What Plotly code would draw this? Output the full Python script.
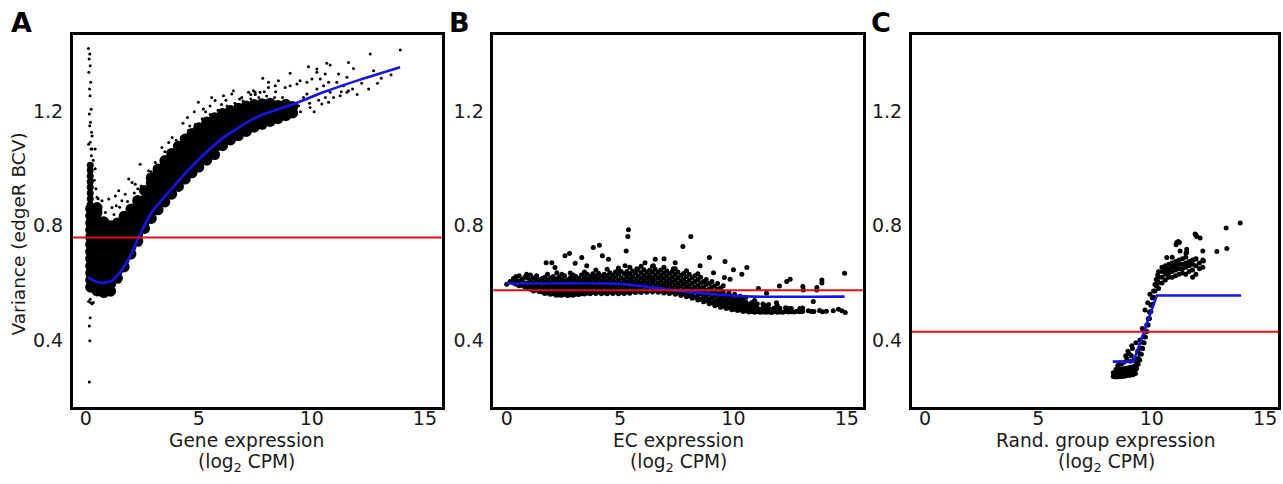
import plotly.graph_objects as go

W, H = 1283, 484
FONT = "DejaVu Sans"
INK = "#1a1a1a"

# ------------------------------------------------------------------ data
x_ticks = [0, 5, 10, 15]
x_tick_labels = ["0", "5", "10", "15"]
y_ticks = [0.4, 0.8, 1.2]
y_tick_labels = ["0.4", "0.8", "1.2"]

panel_letters = ["A", "B", "C"]
x_titles = ["Gene expression", "EC expression", "Rand. group expression"]
x_units = "(log<sub>2</sub> CPM)"
y_title = "Variance (edgeR BCV)"

# common (red) dispersion per panel
common_bcv = [0.759, 0.574, 0.429]

# ---- Panel A : genes
trendA_x = [0.1, 0.4, 0.75, 1.15, 1.6, 2.05, 2.35, 2.9, 3.8, 4.65, 5.5, 6.1, 7.6, 9.2, 10.5, 12.0, 13.9]
trendA_y = [0.619, 0.606, 0.600, 0.607, 0.646, 0.707, 0.762, 0.845, 0.930, 1.005, 1.070, 1.110, 1.183, 1.227, 1.268, 1.309, 1.356]

# dense core of the gene cloud, one column of points per expression level
coreA = [
    (0.22, [0.585, 0.61, 0.635, 0.66, 0.685, 0.71, 0.735, 0.76, 0.785, 0.81, 0.835, 0.86]),
    (0.50, [0.572, 0.597, 0.622, 0.647, 0.672, 0.697, 0.722, 0.747, 0.772, 0.797, 0.822, 0.847, 0.864]),
    (0.80, [0.566, 0.591, 0.616, 0.641, 0.666, 0.691, 0.716, 0.741, 0.766, 0.791, 0.814]),
    (1.10, [0.571, 0.596, 0.621, 0.646, 0.671, 0.696, 0.721, 0.746, 0.771, 0.80]),
    (1.40, [0.616, 0.641, 0.666, 0.691, 0.716, 0.741, 0.766, 0.791, 0.81]),
    (1.70, [0.656, 0.681, 0.706, 0.731, 0.756, 0.781, 0.806, 0.834]),
    (2.00, [0.701, 0.726, 0.751, 0.776, 0.801, 0.826, 0.859]),
    (2.30, [0.746, 0.771, 0.796, 0.821, 0.846, 0.871, 0.889]),
    (2.60, [0.791, 0.816, 0.841, 0.866, 0.891, 0.924]),
    (2.90, [0.826, 0.851, 0.876, 0.901, 0.926, 0.951, 0.969]),
    (3.20, [0.856, 0.881, 0.906, 0.931, 0.956, 0.981, 0.999]),
    (3.50, [0.884, 0.909, 0.934, 0.959, 0.984, 1.009, 1.029]),
    (3.80, [0.911, 0.936, 0.961, 0.986, 1.011, 1.036, 1.054]),
    (4.10, [0.938, 0.963, 0.988, 1.013, 1.038, 1.063, 1.079]),
    (4.40, [0.964, 0.989, 1.014, 1.039, 1.064, 1.089, 1.104]),
    (4.70, [0.986, 1.011, 1.036, 1.061, 1.086, 1.111, 1.124]),
    (5.00, [1.006, 1.031, 1.056, 1.081, 1.106, 1.131, 1.144]),
    (5.35, [1.030, 1.055, 1.080, 1.105, 1.130, 1.155, 1.164]),
    (5.70, [1.050, 1.075, 1.100, 1.125, 1.150, 1.179]),
    (6.05, [1.081, 1.106, 1.131, 1.156, 1.181, 1.194]),
    (6.40, [1.101, 1.126, 1.151, 1.176, 1.204]),
    (6.75, [1.116, 1.141, 1.166, 1.191, 1.212]),
    (7.10, [1.131, 1.156, 1.181, 1.205, 1.220]),
    (7.45, [1.146, 1.171, 1.196, 1.225]),
    (7.80, [1.156, 1.181, 1.206, 1.228]),
    (8.15, [1.166, 1.190, 1.212, 1.230]),
    (8.50, [1.176, 1.200, 1.222]),
    (8.85, [1.186, 1.210, 1.226]),
    (9.15, [1.196, 1.218]),
]
# narrow upper part of the low-count spike
spikeCoreA = [
    (0.20, [0.875, 0.895, 0.915, 0.935, 0.955, 0.975, 0.995, 1.012]),
]

# sparse genes: the low-count spike and the points outside the core
spikeA_x = [0.12, 0.18, 0.15, 0.20, 0.14, 0.22, 0.17, 0.19, 0.24, 0.16, 0.21, 0.18, 0.26, 0.20, 0.23, 0.25,
            0.20, 0.34, 0.20, 0.16, 0.18, 0.16, 0.13, 0.22, 0.28]
spikeA_y = [1.422, 1.402, 1.385, 1.361, 1.338, 1.303, 1.280, 1.256, 1.209, 1.192, 1.163, 1.151, 1.128, 1.093, 1.069, 1.046,
            0.543, 0.531, 0.478, 0.449, 0.397, 0.253, 0.535, 0.530, 0.527]

speckA_x = [0.13, 0.28, 0.42, 0.28, 2.41, 1.90, 2.05, 1.46, 1.31, 1.02, 0.72, 0.65, 0.87, 1.16, 1.60, 1.75, 2.19,
            2.78, 3.08, 3.37, 3.67, 3.82, 0.38, 0.45, 0.50, 0.42, 0.55, 0.33,
            1.25, 1.50, 1.85, 2.15, 2.45, 2.75, 3.05, 3.35, 3.65, 3.95, 4.25, 4.55, 4.85, 5.15, 5.50, 5.85,
            6.25, 6.60, 6.95, 7.30, 7.65, 8.00, 8.35, 1.35, 2.30, 2.90, 3.50, 4.00, 4.60, 5.30, 6.00, 6.80,
            7.50, 4.30, 4.50, 4.80, 5.50, 6.20, 6.90, 7.30, 7.90, 8.40, 8.70, 8.60, 9.00,
            9.04, 9.85, 10.22, 10.22, 10.66, 10.81, 11.62, 11.84, 12.58, 13.91, 12.73, 13.07, 12.51, 11.55,
            11.18, 10.59, 10.37, 10.00, 9.78, 9.48, 9.34, 9.04, 8.82, 8.52, 8.38, 8.08, 7.83, 8.08, 7.71,
            7.49, 7.42, 7.20, 6.53, 6.46, 6.09, 5.72, 5.57, 5.20, 4.98, 11.10, 10.81, 10.96, 11.40, 11.55,
            11.62, 10.74, 10.44, 9.92, 9.41, 9.19, 9.04, 8.89, 9.63, 9.78, 10.22, 10.52, 10.74, 11.25,
            9.50, 9.90, 10.30, 10.60, 11.30, 11.80, 12.20, 12.90, 13.50, 12.00, 10.10]
speckA_y = [1.086, 1.069, 1.069, 1.115, 1.016, 0.964, 0.952, 0.923, 0.905, 0.894, 0.888, 0.858, 0.847, 0.864, 0.888, 0.911, 0.946,
            0.993, 1.022, 1.075, 1.092, 1.110, 0.960, 0.930, 0.900, 1.000, 0.895, 1.030,
            0.840, 0.865, 0.885, 0.915, 0.940, 0.970, 1.000, 1.030, 1.060, 1.085, 1.110, 1.135, 1.155, 1.175, 1.190, 1.205,
            1.220, 1.230, 1.238, 1.245, 1.250, 1.255, 1.250, 0.870, 0.930, 0.990, 1.060, 1.100, 1.150, 1.200, 1.225, 1.245,
            1.260, 1.160, 1.180, 1.200, 1.220, 1.240, 1.250, 1.260, 1.270, 1.270, 1.250, 1.225, 1.220,
            1.335, 1.358, 1.350, 1.338, 1.370, 1.364, 1.373, 1.352, 1.402, 1.416, 1.344, 1.317, 1.280, 1.321,
            1.332, 1.332, 1.315, 1.315, 1.303, 1.309, 1.297, 1.291, 1.285, 1.309, 1.291, 1.303, 1.317, 1.285, 1.268,
            1.268, 1.274, 1.268, 1.274, 1.262, 1.256, 1.239, 1.250, 1.210, 1.233, 1.303, 1.268, 1.250, 1.291, 1.268,
            1.274, 1.233, 1.227, 1.215, 1.221, 1.210, 1.192, 1.198, 1.250, 1.262, 1.280, 1.291, 1.303, 1.256,
            1.200, 1.230, 1.240, 1.250, 1.270, 1.280, 1.300, 1.300, 1.330, 1.260, 1.200]

# ---- Panel B : equivalence classes
trendB_x = [0.0, 4.5, 5.5, 7.6, 9.1, 10.9, 14.9]
trendB_y = [0.598, 0.598, 0.593, 0.572, 0.560, 0.552, 0.552]

coreB = [
    (0.00, [0.595]),
    (0.30, [0.600, 0.615]),
    (0.55, [0.590, 0.607, 0.625]),
    (0.80, [0.585, 0.600, 0.620]),
    (1.05, [0.578, 0.593, 0.610, 0.628]),
    (1.30, [0.575, 0.590, 0.605, 0.620]),
    (1.55, [0.568, 0.583, 0.600, 0.615]),
    (1.80, [0.565, 0.580, 0.595, 0.610, 0.630]),
    (2.05, [0.562, 0.577, 0.592, 0.607, 0.622]),
    (2.30, [0.558, 0.573, 0.590, 0.605, 0.620]),
    (2.55, [0.560, 0.575, 0.590, 0.607, 0.625]),
    (2.80, [0.558, 0.572, 0.588, 0.603, 0.618, 0.635]),
    (3.05, [0.560, 0.575, 0.590, 0.606, 0.622]),
    (3.30, [0.562, 0.578, 0.594, 0.610, 0.628]),
    (3.55, [0.565, 0.580, 0.596, 0.612, 0.630]),
    (3.80, [0.566, 0.582, 0.598, 0.615, 0.632]),
    (4.05, [0.568, 0.584, 0.600, 0.616, 0.634]),
    (4.30, [0.566, 0.582, 0.598, 0.614, 0.630]),
    (4.55, [0.567, 0.583, 0.600, 0.617, 0.636]),
    (4.80, [0.568, 0.585, 0.602, 0.620, 0.638]),
    (5.05, [0.567, 0.584, 0.600, 0.618, 0.640]),
    (5.30, [0.568, 0.586, 0.604, 0.622, 0.640]),
    (5.55, [0.570, 0.587, 0.605, 0.622, 0.642]),
    (5.80, [0.571, 0.588, 0.606, 0.624, 0.645]),
    (6.05, [0.572, 0.590, 0.608, 0.626, 0.646]),
    (6.30, [0.573, 0.590, 0.608, 0.626, 0.644]),
    (6.55, [0.574, 0.592, 0.610, 0.628, 0.648]),
    (6.80, [0.572, 0.590, 0.608, 0.626, 0.645]),
    (7.05, [0.570, 0.588, 0.606, 0.624, 0.643]),
    (7.30, [0.568, 0.585, 0.603, 0.621, 0.640]),
    (7.55, [0.565, 0.582, 0.600, 0.618, 0.638]),
    (7.80, [0.560, 0.578, 0.596, 0.614, 0.633]),
    (8.05, [0.555, 0.573, 0.591, 0.610, 0.630]),
    (8.30, [0.550, 0.568, 0.586, 0.605, 0.625]),
    (8.55, [0.543, 0.562, 0.580, 0.600, 0.620]),
    (8.80, [0.537, 0.555, 0.574, 0.594, 0.612]),
    (9.05, [0.530, 0.548, 0.567, 0.586, 0.605]),
    (9.30, [0.524, 0.541, 0.559, 0.578, 0.598]),
    (9.55, [0.518, 0.535, 0.552, 0.570, 0.590]),
    (9.80, [0.513, 0.530, 0.547, 0.565]),
    (10.05, [0.508, 0.524, 0.541, 0.560]),
    (10.30, [0.505, 0.520, 0.536, 0.553]),
    (10.55, [0.502, 0.516, 0.532, 0.550]),
    (10.80, [0.500, 0.514, 0.530]),
    (11.05, [0.499, 0.512, 0.527]),
    (11.30, [0.498, 0.511, 0.526]),
    (11.55, [0.498, 0.510, 0.524]),
    (11.80, [0.499, 0.512]),
    (12.05, [0.498, 0.511]),
    (12.30, [0.500, 0.513]),
    (12.55, [0.499, 0.510]),
    (12.80, [0.501]),
    (13.05, [0.500, 0.512]),
    (13.30, [0.502]),
    (13.55, [0.500]),
    (13.80, [0.503]),
    (14.10, [0.501]),
    (14.78, [0.502]),
    (14.93, [0.496]),
]
# second, interleaved set of classes between the columns above
coreB_mid = [
    (0.15, [0.605]),
    (0.42, [0.595, 0.610]),
    (0.68, [0.592, 0.612]),
    (0.93, [0.583, 0.598, 0.616]),
    (1.18, [0.572, 0.586, 0.600, 0.617]),
    (1.43, [0.570, 0.585, 0.598, 0.611]),
    (1.68, [0.563, 0.576, 0.589, 0.603, 0.620]),
    (1.93, [0.560, 0.572, 0.586, 0.600, 0.617]),
    (2.18, [0.557, 0.570, 0.584, 0.598, 0.614]),
    (2.43, [0.557, 0.567, 0.582, 0.597, 0.612, 0.630]),
    (2.68, [0.556, 0.566, 0.580, 0.596, 0.611]),
    (2.93, [0.557, 0.567, 0.582, 0.598, 0.613, 0.628]),
    (3.18, [0.559, 0.570, 0.585, 0.600, 0.615]),
    (3.43, [0.561, 0.572, 0.587, 0.603, 0.620, 0.638]),
    (3.68, [0.562, 0.574, 0.590, 0.606, 0.622]),
    (3.93, [0.563, 0.576, 0.592, 0.608, 0.625, 0.645]),
    (4.18, [0.562, 0.575, 0.590, 0.607, 0.624]),
    (4.43, [0.562, 0.575, 0.591, 0.608, 0.626, 0.648]),
    (4.68, [0.563, 0.577, 0.593, 0.610, 0.628]),
    (4.93, [0.562, 0.576, 0.593, 0.610, 0.630, 0.652]),
    (5.18, [0.563, 0.577, 0.594, 0.612, 0.632]),
    (5.43, [0.564, 0.579, 0.596, 0.614, 0.633, 0.655]),
    (5.68, [0.566, 0.580, 0.597, 0.615, 0.635]),
    (5.93, [0.566, 0.581, 0.598, 0.616, 0.636, 0.658]),
    (6.18, [0.567, 0.582, 0.600, 0.618, 0.637]),
    (6.43, [0.568, 0.583, 0.601, 0.619, 0.638, 0.658]),
    (6.68, [0.567, 0.582, 0.600, 0.618, 0.637]),
    (6.93, [0.565, 0.580, 0.598, 0.616, 0.635, 0.655]),
    (7.18, [0.563, 0.578, 0.596, 0.614, 0.633]),
    (7.43, [0.560, 0.575, 0.593, 0.611, 0.630, 0.650]),
    (7.68, [0.556, 0.571, 0.589, 0.607, 0.626]),
    (7.93, [0.551, 0.566, 0.584, 0.602, 0.622, 0.643]),
    (8.18, [0.546, 0.561, 0.579, 0.598, 0.618]),
    (8.43, [0.540, 0.555, 0.573, 0.592, 0.612, 0.632]),
    (8.68, [0.534, 0.549, 0.567, 0.586, 0.605]),
    (8.93, [0.527, 0.542, 0.560, 0.579, 0.598]),
    (9.18, [0.520, 0.536, 0.553, 0.572, 0.590]),
    (9.43, [0.515, 0.530, 0.546, 0.563, 0.582]),
    (9.68, [0.510, 0.524, 0.540, 0.556]),
    (9.93, [0.506, 0.520, 0.535, 0.552]),
    (10.18, [0.503, 0.516, 0.530, 0.546]),
    (10.43, [0.500, 0.513, 0.527, 0.543]),
    (10.68, [0.498, 0.510, 0.524]),
    (10.93, [0.497, 0.509, 0.522, 0.538]),
    (11.18, [0.497, 0.508]),
    (11.43, [0.497, 0.509, 0.520]),
    (11.68, [0.496, 0.507]),
    (11.93, [0.497, 0.508, 0.522]),
    (12.18, [0.497]),
    (12.43, [0.498, 0.510]),
    (12.68, [0.498]),
    (12.93, [0.499, 0.510]),
    (13.43, [0.500]),
    (13.93, [0.499]),
    (14.40, [0.502]),
]

outB_x = [5.37, 5.34, 5.27, 8.12, 7.77, 4.09, 3.82, 2.77, 2.57, 3.31, 4.22, 1.99, 1.74, 3.02, 4.49, 8.94,
          9.63, 10.59, 10.00, 10.37, 14.90, 13.90, 12.50, 13.06, 13.68, 12.03, 0.41, 0.88, 1.32, 5.22,
          5.74, 6.47, 6.94, 7.43, 7.35, 6.55, 6.10, 4.90, 2.21, 2.13, 3.53, 8.53, 9.12, 9.60, 9.85,
          11.10, 11.46, 11.90, 12.35, 13.08, 13.67, 13.52, 13.90, 14.63]
outB_y = [0.786, 0.763, 0.712, 0.763, 0.728, 0.732, 0.724, 0.703, 0.695, 0.689, 0.695, 0.671, 0.671, 0.669, 0.683, 0.689,
          0.675, 0.654, 0.646, 0.630, 0.634, 0.610, 0.613, 0.587, 0.584, 0.589, 0.622, 0.630, 0.625, 0.660,
          0.650, 0.660, 0.685, 0.671, 0.650, 0.683, 0.671, 0.642, 0.636, 0.654, 0.660, 0.660, 0.636, 0.619, 0.613,
          0.580, 0.564, 0.530, 0.605, 0.575, 0.575, 0.535, 0.600, 0.508]

# ---- Panel C : random groups
trendC_x = [8.28, 9.19, 10.22, 13.94]
trendC_y = [0.324, 0.324, 0.556, 0.556]

pointsC_x = [8.30, 8.30, 8.42, 8.42, 8.42, 8.55, 8.55, 8.55, 8.68, 8.68, 8.68, 8.80, 8.80, 8.80, 8.93, 8.93, 8.93,
             9.05, 9.05, 9.05, 9.17, 9.17, 9.17, 9.28, 9.28, 9.28,
             8.50, 8.65, 8.78, 8.90, 9.00, 9.10, 9.15, 8.95, 9.22, 9.30, 8.85, 9.05, 8.60, 9.12,
             9.33, 9.33, 9.40, 9.40, 9.47, 9.47, 9.54, 9.54, 9.60, 9.60, 9.66, 9.66, 9.72, 9.72, 9.78, 9.78,
             9.84, 9.84, 9.90, 9.90, 9.96, 9.96, 10.02, 10.02, 10.08, 10.08, 10.14, 10.14, 10.20, 10.20, 10.26, 10.26,
             9.38, 9.48, 9.58, 9.70, 9.82, 9.92,
             10.30, 10.30, 10.30, 10.30, 10.45, 10.45, 10.45, 10.45, 10.60, 10.60, 10.60, 10.60,
             10.75, 10.75, 10.75, 10.75, 10.90, 10.90, 10.90, 10.90, 10.90, 11.05, 11.05, 11.05, 11.05,
             11.20, 11.20, 11.20, 11.20, 11.35, 11.35, 11.35, 11.35, 11.50, 11.50, 11.50, 11.50,
             11.65, 11.65, 11.65, 11.80, 11.80, 11.80, 11.80, 11.95, 11.95, 11.95, 12.10, 12.10, 12.25, 12.25,
             13.90, 13.28, 13.31, 12.87, 12.25, 12.28, 11.94, 12.13, 11.22, 11.07, 11.54, 11.51, 11.91, 11.62,
             10.66, 11.91, 11.98, 11.10, 11.17, 11.54, 11.25]
pointsC_y = [0.272, 0.285, 0.270, 0.283, 0.296, 0.271, 0.284, 0.297, 0.272, 0.285, 0.298, 0.273, 0.286, 0.300, 0.275, 0.288, 0.302,
             0.276, 0.290, 0.304, 0.278, 0.292, 0.306, 0.282, 0.296, 0.310,
             0.310, 0.315, 0.322, 0.335, 0.352, 0.345, 0.370, 0.360, 0.330, 0.390, 0.345, 0.325, 0.320, 0.380,
             0.300, 0.318, 0.315, 0.335, 0.330, 0.352, 0.350, 0.372, 0.370, 0.392, 0.390, 0.412, 0.410, 0.432, 0.430, 0.452,
             0.452, 0.474, 0.475, 0.497, 0.500, 0.522, 0.525, 0.547, 0.550, 0.572, 0.572, 0.594, 0.590, 0.612, 0.605, 0.628,
             0.360, 0.400, 0.440, 0.505, 0.530, 0.560,
             0.580, 0.600, 0.620, 0.640, 0.600, 0.620, 0.640, 0.655, 0.610, 0.630, 0.645, 0.660,
             0.620, 0.635, 0.650, 0.665, 0.620, 0.640, 0.655, 0.670, 0.690, 0.625, 0.645, 0.660, 0.675,
             0.630, 0.650, 0.665, 0.680, 0.635, 0.650, 0.665, 0.685, 0.630, 0.655, 0.670, 0.690,
             0.640, 0.660, 0.675, 0.620, 0.645, 0.665, 0.680, 0.630, 0.660, 0.685, 0.650, 0.670, 0.655, 0.680,
             0.810, 0.792, 0.721, 0.710, 0.712, 0.677, 0.769, 0.757, 0.742, 0.734, 0.718, 0.704, 0.683, 0.666,
             0.689, 0.771, 0.763, 0.742, 0.745, 0.707, 0.712]

# ------------------------------------------------------------------ layout (pixels)
plot_px = [(72.7, 441.7), (493.3, 862.7), (911.7, 1278.3)]
plot_top, plot_bottom = 35.0, 406.7
x_ranges = [(-0.575, 15.74), (-0.59, 15.70), (-0.587, 15.58)]
y_range = (0.166, 1.469)
title_cx = [246.0, 678.5, 1106.0]
letter_px = [9.0, 447.0, 869.0]


def flatten(*tables):
    xs, ys = [], []
    for cols in tables:
        for x, col in cols:
            for y in col:
                xs.append(x)
                ys.append(y)
    return xs, ys


coreA_x, coreA_y = flatten(coreA)
spkA_x, spkA_y = flatten(spikeCoreA)
coreB_x, coreB_y = flatten(coreB, coreB_mid)

BLACK = "#000000"
BLUE = "#1414f0"
RED = "#e01010"

fig = go.Figure()


def dots(x, y, size, axis):
    fig.add_trace(go.Scatter(x=x, y=y, mode="markers", xaxis=axis[0], yaxis=axis[1],
                             marker=dict(size=size, color=BLACK, line=dict(width=0)),
                             hoverinfo="skip", showlegend=False))


def trend(x, y, axis, smooth=True):
    line = dict(color=BLUE, width=2.6)
    if smooth:
        line.update(shape="spline", smoothing=0.6)
    fig.add_trace(go.Scatter(x=x, y=y, mode="lines", xaxis=axis[0], yaxis=axis[1],
                             line=line, hoverinfo="skip", showlegend=False))


axA, axB, axC = ("x", "y"), ("x2", "y2"), ("x3", "y3")
dots(coreA_x, coreA_y, 11, axA)
dots(spkA_x, spkA_y, 7, axA)
dots(speckA_x, speckA_y, 3, axA)
dots(spikeA_x, spikeA_y, 3, axA)
trend(trendA_x, trendA_y, axA)

dots(coreB_x, coreB_y, 5, axB)
dots(outB_x, outB_y, 5, axB)
trend(trendB_x, trendB_y, axB)

dots(pointsC_x, pointsC_y, 5, axC)
trend(trendC_x, trendC_y, axC, smooth=False)

shapes = []
annotations = []
layout_axes = {}
for i in range(3):
    sfx = "" if i == 0 else str(i + 1)
    l, r = plot_px[i]
    layout_axes["xaxis" + sfx] = dict(
        domain=[l / W, r / W], range=list(x_ranges[i]), anchor="y" + sfx,
        tickvals=x_ticks, ticktext=x_tick_labels, ticks="", showgrid=False, zeroline=False,
        showline=True, mirror=True, linecolor=BLACK, linewidth=2.5,
        tickfont=dict(family=FONT, size=19, color=INK), ticklabelstandoff=-7, fixedrange=True)
    layout_axes["yaxis" + sfx] = dict(
        domain=[1 - plot_bottom / H, 1 - plot_top / H], range=list(y_range), anchor="x" + sfx,
        tickvals=y_ticks, ticktext=y_tick_labels, ticks="", showgrid=False, zeroline=False,
        showline=True, mirror=True, linecolor=BLACK, linewidth=2.5,
        tickfont=dict(family=FONT, size=19, color=INK), ticklabelstandoff=3, fixedrange=True)
    shapes.append(dict(type="line", xref="x" + sfx + " domain", yref="y" + sfx,
                       x0=0, x1=1, y0=common_bcv[i], y1=common_bcv[i],
                       line=dict(color=RED, width=2), layer="above"))
    annotations.append(dict(text=panel_letters[i], xref="paper", yref="paper",
                            x=letter_px[i] / W, y=1 - 5 / H, xanchor="left", yanchor="top",
                            showarrow=False, font=dict(family=FONT, size=27, color=BLACK, weight="bold")))
    annotations.append(dict(text=x_titles[i], xref="paper", yref="paper",
                            x=title_cx[i] / W, y=1 - 440 / H, xanchor="center", yanchor="middle",
                            showarrow=False, font=dict(family=FONT, size=18.6, color=INK)))
    annotations.append(dict(text=x_units, xref="paper", yref="paper",
                            x=title_cx[i] / W, y=1 - 463 / H, xanchor="center", yanchor="middle",
                            showarrow=False, font=dict(family=FONT, size=18.6, color=INK)))

annotations.append(dict(text=y_title, xref="paper", yref="paper", x=17.5 / W, y=1 - 234 / H,
                        xanchor="center", yanchor="middle", textangle=-90, showarrow=False,
                        font=dict(family=FONT, size=18.5, color=INK)))

fig.update_layout(width=W, height=H, margin=dict(l=0, r=0, t=0, b=0),
                  paper_bgcolor="white", plot_bgcolor="white",
                  shapes=shapes, annotations=annotations, showlegend=False, **layout_axes)

fig.write_html("out.html", config={"displayModeBar": False},
               post_script="document.body.style.margin='0px';document.body.style.padding='0px';")
